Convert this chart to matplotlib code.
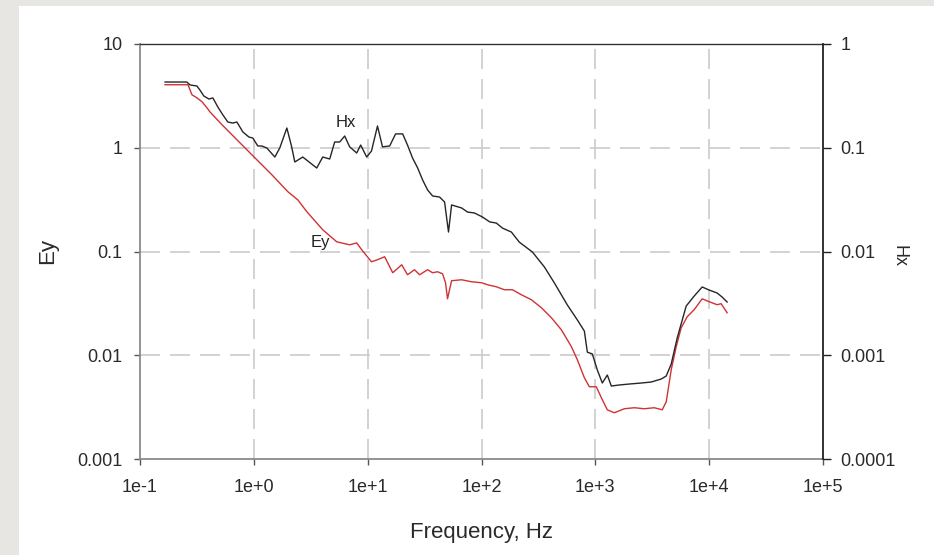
import numpy as np
import matplotlib
matplotlib.use("Agg")
import matplotlib.pyplot as plt
from matplotlib.patches import Rectangle
from matplotlib.ticker import FixedLocator, FixedFormatter, NullLocator

plt.rcParams['font.family'] = ['Liberation Sans', 'DejaVu Sans']

# Hx spectrum (right axis)
hx_freq = [0.166, 0.258, 0.275, 0.316, 0.336, 0.364, 0.403, 0.437, 0.483, 0.535,
           0.591, 0.654, 0.710, 0.801, 0.904, 0.980, 1.084, 1.175, 1.30, 1.53,
           1.69, 1.95, 2.15, 2.29, 2.69, 3.57, 4.03, 4.64, 5.13, 5.68,
           6.28, 6.95, 8.01, 8.68, 9.80, 10.8, 12.2, 13.5, 15.6, 17.6,
           20.3, 22.4, 24.8, 27.5, 30.4, 33.6, 37.2, 42.8, 47.4, 49.3,
           51.3, 54.6, 66.8, 75.4, 86.8, 102, 118, 135, 153, 183,
           215, 280, 357, 437, 568, 695, 801, 851, 941, 1041,
           1152, 1274, 1382, 1624, 1987, 2532, 3098, 3792, 4196, 4642,
           5240, 6283, 7387, 8683, 10000, 11750, 13000, 14380]
hx_vals = [0.430, 0.430, 0.403, 0.394, 0.360, 0.315, 0.295, 0.302, 0.247, 0.207,
           0.177, 0.173, 0.177, 0.142, 0.127, 0.124, 0.104, 0.104, 0.0995, 0.0814,
           0.0995, 0.155, 0.102, 0.0729, 0.0814, 0.0638, 0.0814, 0.0779, 0.1136, 0.1136,
           0.1298, 0.102, 0.0890, 0.1063, 0.0814, 0.0930, 0.162, 0.102, 0.104, 0.136,
           0.136, 0.106, 0.0796, 0.0638, 0.0489, 0.0392, 0.0343, 0.0335, 0.0300, 0.0215,
           0.0154, 0.0281, 0.0263, 0.0240, 0.0235, 0.0215, 0.0193, 0.0188, 0.0168, 0.0154,
           0.0123, 0.00989, 0.00709, 0.00497, 0.00305, 0.00219, 0.00171, 0.00107, 0.00103, 0.000721,
           0.000540, 0.000645, 0.000505, 0.000517, 0.000528, 0.000540, 0.000552, 0.000590, 0.000631, 0.000823,
           0.00147, 0.00298, 0.00372, 0.00455, 0.00425, 0.00398, 0.00364, 0.00326]

# Ey spectrum (left axis)
ey_freq = [0.166, 0.264, 0.286, 0.316, 0.350, 0.387, 0.411, 0.524, 0.681, 0.834,
           1.02, 1.44, 1.99, 2.43, 2.92, 4.03, 5.35, 6.95, 8.01, 8.86,
           10.8, 12.2, 14.1, 16.6, 19.9, 22.4, 25.8, 28.6, 33.6, 37.2,
           41.1, 45.5, 48.3, 50.3, 54.6, 66.8, 81.7, 100, 113, 135,
           159, 187, 224, 274, 336, 411, 503, 616, 695, 801,
           886, 1020, 1129, 1274, 1468, 1797, 2198, 2690, 3292, 3870,
           4196, 4642, 5134, 5680, 6412, 7387, 8683, 10000, 11750, 12740, 14380]
ey_vals = [4.05, 4.05, 3.24, 3.03, 2.78, 2.43, 2.22, 1.67, 1.25, 1.0,
           0.801, 0.549, 0.377, 0.315, 0.242, 0.162, 0.124, 0.116, 0.121, 0.104,
           0.0796, 0.0833, 0.0890, 0.0624, 0.0745, 0.0597, 0.0667, 0.0597, 0.0667, 0.0624,
           0.0638, 0.0610, 0.0500, 0.0350, 0.0523, 0.0534, 0.0511, 0.0500, 0.0478, 0.0457,
           0.0428, 0.0428, 0.0383, 0.0343, 0.0287, 0.0230, 0.0176, 0.0121, 0.00905, 0.00607,
           0.00497, 0.00497, 0.00390, 0.00298, 0.00279, 0.00305, 0.00312, 0.00305, 0.00312, 0.00298,
           0.00356, 0.00725, 0.0121, 0.0184, 0.0235, 0.0275, 0.0350, 0.0328, 0.0307, 0.0314, 0.0257]

x_ticks = [1e-1, 1e0, 1e1, 1e2, 1e3, 1e4, 1e5]
x_labels = ["1e-1", "1e+0", "1e+1", "1e+2", "1e+3", "1e+4", "1e+5"]
ey_ticks = [1e-3, 1e-2, 1e-1, 1, 10]
ey_labels = ["0.001", "0.01", "0.1", "1", "10"]
hx_ticks = [1e-4, 1e-3, 1e-2, 1e-1, 1]
hx_labels = ["0.0001", "0.001", "0.01", "0.1", "1"]

fig = plt.figure(figsize=(9.34, 5.55), dpi=100)
fig.patch.set_facecolor('#e8e6e3')
fig.patches.append(Rectangle((19 / 934, 0), 1, 549 / 555, transform=fig.transFigure,
                             facecolor='white', edgecolor='none', zorder=-10))

ax = fig.add_axes([140 / 934, 1 - 459 / 555, 683 / 934, 415 / 555])
ax.set_facecolor('none')
ax.set_xscale('log')
ax.set_yscale('log')
ax.set_xlim(1e-1, 1e5)
ax.set_ylim(1e-3, 10)

ax2 = ax.twinx()
ax2.set_yscale('log')
ax2.set_ylim(1e-4, 1)

# grid (only inner decades)
for xv in x_ticks[1:-1]:
    ax.axvline(xv, color='#cbcbcb', lw=1.2, dashes=(12, 6), zorder=1)
for yv in ey_ticks[1:-1]:
    ax.axhline(yv, color='#cbcbcb', lw=1.2, dashes=(12, 6), zorder=1)

ax.plot(ey_freq, ey_vals, color='#cf3333', lw=1.0, zorder=3)
ax2.plot(hx_freq, hx_vals, color='#262626', lw=1.0, zorder=3)

ax.text(6.4, 1.74, "Hx", fontsize=12, color='#222222', ha='center', va='center')
ax.text(3.85, 0.122, "Ey", fontsize=12, color='#222222', ha='center', va='center')

ax.xaxis.set_major_locator(FixedLocator(x_ticks))
ax.xaxis.set_major_formatter(FixedFormatter(x_labels))
ax.xaxis.set_minor_locator(NullLocator())
ax.yaxis.set_major_locator(FixedLocator(ey_ticks))
ax.yaxis.set_major_formatter(FixedFormatter(ey_labels))
ax.yaxis.set_minor_locator(NullLocator())
ax2.yaxis.set_major_locator(FixedLocator(hx_ticks))
ax2.yaxis.set_major_formatter(FixedFormatter(hx_labels))
ax2.yaxis.set_minor_locator(NullLocator())

ax.tick_params(axis='both', direction='out', length=4.5, width=1, colors='#555555',
               labelcolor='#2a2a2a', labelsize=13)
ax.tick_params(axis='x', pad=10)
ax.tick_params(axis='y', pad=8)
ax2.tick_params(axis='y', direction='out', length=5.5, width=1, colors='#222222',
                labelcolor='#2a2a2a', labelsize=13, pad=7)

for side in ['left', 'bottom']:
    ax.spines[side].set_color('#8a8a8a')
    ax.spines[side].set_linewidth(1.3)
ax.spines['top'].set_color('#333333')
ax.spines['top'].set_linewidth(1.0)
ax.spines['right'].set_visible(False)
for side in ['left', 'top', 'bottom']:
    ax2.spines[side].set_visible(False)
ax2.spines['right'].set_color('#222222')
ax2.spines['right'].set_linewidth(1.3)

# axis titles placed in axes coordinates
ax.text(0.5, -0.176, "Frequency, Hz", transform=ax.transAxes, fontsize=16,
        color='#2a2a2a', ha='center', va='center')
ax.text(-0.1347, 0.5, "Ey", transform=ax.transAxes, fontsize=16, rotation=90,
        color='#2a2a2a', ha='center', va='center')
ax2.text(1.112, 0.49, "Hx", transform=ax2.transAxes, fontsize=13, rotation=270,
         color='#2a2a2a', ha='center', va='center')

fig.savefig("out.png", dpi=100, facecolor=fig.get_facecolor())
